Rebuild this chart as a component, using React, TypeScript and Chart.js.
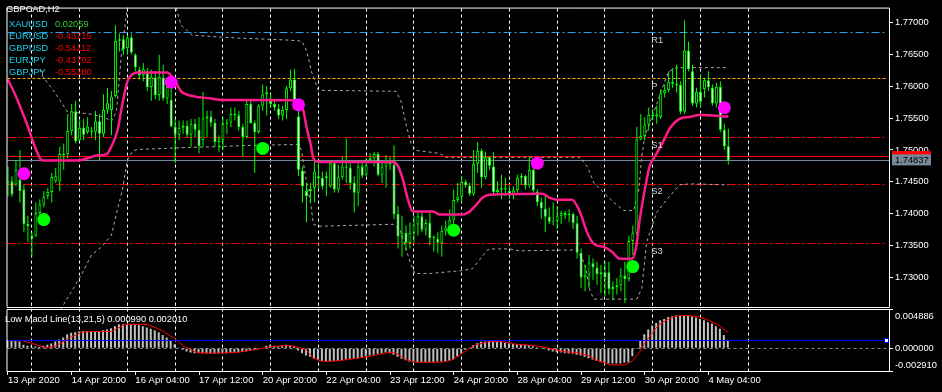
import React, { useEffect, useRef } from 'react';
import { Chart, registerables } from 'chart.js';
Chart.register(...registerables);

// ---------- data (GBPCAD, H2) ----------
const openP = [
  1.74459, 1.74510, 1.74459, 1.74536, 1.74381, 1.73841, 1.73661, 1.73661, 1.74011, 1.74145,
  1.74278, 1.74340, 1.74510, 1.74510, 1.74937, 1.74937, 1.75297, 1.75606, 1.75153, 1.75348,
  1.75282, 1.75307, 1.75287, 1.75451, 1.75256, 1.75631, 1.75626, 1.75847, 1.76712, 1.76737,
  1.76593, 1.76763, 1.76491, 1.76259, 1.76166, 1.76207, 1.75986, 1.76130, 1.75863, 1.76130,
  1.75806, 1.75786, 1.75369, 1.75240, 1.75348, 1.75379, 1.75240, 1.75410, 1.75318, 1.75153,
  1.75498, 1.75523, 1.75426, 1.75127, 1.75153, 1.75410, 1.75431, 1.75564, 1.75544, 1.75359,
  1.75205, 1.75719, 1.75421, 1.75282, 1.75693, 1.75873, 1.75806, 1.75719, 1.75652, 1.75539,
  1.75626, 1.75966, 1.76105, 1.75523, 1.74675, 1.74356, 1.74356, 1.74407, 1.74587, 1.74561,
  1.74561, 1.74433, 1.74793, 1.74381, 1.74572, 1.74741, 1.74721, 1.74484, 1.74330, 1.74741,
  1.74613, 1.74844, 1.74870, 1.74937, 1.74613, 1.74741, 1.74803, 1.74767, 1.73996, 1.73646,
  1.73703, 1.73543, 1.73703, 1.73831, 1.73960, 1.73749, 1.73857, 1.73620, 1.73610, 1.73548,
  1.73733, 1.73785, 1.73908, 1.74217, 1.74268, 1.74500, 1.74443, 1.74314, 1.74783, 1.74988,
  1.74572, 1.74885, 1.74741, 1.74340, 1.74376, 1.74402, 1.74356, 1.74289, 1.74371, 1.74567,
  1.74592, 1.74443, 1.74690, 1.74350, 1.74186, 1.74083, 1.73954, 1.73877, 1.73888, 1.73960,
  1.74011, 1.73980, 1.74001, 1.73851, 1.73389, 1.73003, 1.73044, 1.73224, 1.73157, 1.73054,
  1.73085, 1.73085, 1.72823, 1.72854, 1.72879, 1.73034, 1.72977, 1.73574, 1.73703, 1.75168,
  1.75220, 1.75400, 1.75554, 1.75523, 1.75513, 1.75889, 1.75940, 1.76069, 1.76038, 1.76017,
  1.75601, 1.76557, 1.76234, 1.75729, 1.75914, 1.75950, 1.76094, 1.75976, 1.75729, 1.75991,
  1.75318, 1.75060,
];
const highP = [
  1.74741, 1.74587, 1.74844, 1.74999, 1.74459, 1.73970, 1.73713, 1.74176, 1.74227, 1.74356,
  1.74407, 1.74639, 1.74716, 1.75050, 1.75102, 1.75564, 1.75719, 1.75770, 1.75462, 1.75487,
  1.75513, 1.75359, 1.75616, 1.75564, 1.75873, 1.75976, 1.75925, 1.76953, 1.76825, 1.76799,
  1.76799, 1.76825, 1.76516, 1.76310, 1.76362, 1.76285, 1.76259, 1.76234, 1.76491, 1.76336,
  1.76130, 1.76079, 1.75487, 1.75462, 1.75462, 1.75462, 1.75487, 1.75487, 1.75513, 1.75914,
  1.75616, 1.75616, 1.75487, 1.75230, 1.75513, 1.75487, 1.75667, 1.75667, 1.75616, 1.75410,
  1.75796, 1.75770, 1.75462, 1.75719, 1.76028, 1.76002, 1.75873, 1.75796, 1.75719, 1.75693,
  1.76002, 1.76259, 1.76274, 1.75770, 1.74741, 1.74484, 1.74484, 1.74844, 1.74793, 1.74664,
  1.74664, 1.74844, 1.74818, 1.74767, 1.74896, 1.75179, 1.74793, 1.74587, 1.74793, 1.74793,
  1.74870, 1.74948, 1.74973, 1.74973, 1.74844, 1.74921, 1.74896, 1.75076, 1.74124, 1.73970,
  1.73816, 1.73867, 1.73970, 1.74021, 1.74021, 1.73919, 1.74021, 1.73662, 1.73713, 1.73816,
  1.73893, 1.74073, 1.74381, 1.74484, 1.74587, 1.74536, 1.74484, 1.74999, 1.75127, 1.75024,
  1.74973, 1.74896, 1.74973, 1.74510, 1.74613, 1.74561, 1.74433, 1.74433, 1.74613, 1.74639,
  1.74613, 1.74896, 1.74741, 1.74381, 1.74253, 1.74278, 1.74098, 1.74176, 1.74124, 1.74047,
  1.74047, 1.74073, 1.74021, 1.73970, 1.73455, 1.73198, 1.73353, 1.73301, 1.73250, 1.73198,
  1.73250, 1.73250, 1.72941, 1.72993, 1.73147, 1.73250, 1.73661, 1.73816, 1.75359, 1.75564,
  1.75513, 1.75667, 1.75642, 1.75693, 1.75950, 1.76028, 1.76234, 1.76285, 1.76336, 1.76079,
  1.77031, 1.76696, 1.76336, 1.75976, 1.76182, 1.76130, 1.76234, 1.76028, 1.76053, 1.76079,
  1.75410, 1.75333,
];
const lowP = [
  1.74278, 1.74268, 1.74433, 1.74176, 1.73713, 1.73558, 1.73327, 1.73635, 1.73970, 1.74098,
  1.74227, 1.74176, 1.74484, 1.74356, 1.74690, 1.74870, 1.75230, 1.75102, 1.75143, 1.75153,
  1.75256, 1.75205, 1.75153, 1.74844, 1.75205, 1.75564, 1.75230, 1.75822, 1.76542, 1.76491,
  1.76491, 1.76491, 1.76234, 1.76105, 1.76079, 1.75925, 1.75770, 1.75796, 1.75770, 1.75770,
  1.75719, 1.75359, 1.74793, 1.75153, 1.75256, 1.75205, 1.75050, 1.75205, 1.74948, 1.75050,
  1.75205, 1.75359, 1.75050, 1.74973, 1.74999, 1.75256, 1.75359, 1.75462, 1.75307, 1.74896,
  1.75179, 1.75410, 1.74639, 1.75256, 1.75616, 1.75539, 1.75667, 1.75616, 1.75487, 1.75462,
  1.75487, 1.75925, 1.75642, 1.74587, 1.74176, 1.73867, 1.74176, 1.74176, 1.74381, 1.74381,
  1.74278, 1.74407, 1.74330, 1.74330, 1.74536, 1.74484, 1.74381, 1.74021, 1.74124, 1.74561,
  1.74587, 1.74793, 1.74741, 1.74587, 1.74484, 1.74407, 1.74690, 1.73919, 1.73455, 1.73327,
  1.73430, 1.73455, 1.73558, 1.73662, 1.73713, 1.73662, 1.73507, 1.73404, 1.73378, 1.73327,
  1.73662, 1.73662, 1.73841, 1.74176, 1.74176, 1.74407, 1.74278, 1.74278, 1.74639, 1.74407,
  1.74536, 1.74690, 1.74278, 1.74278, 1.74227, 1.74278, 1.74227, 1.74227, 1.74330, 1.74459,
  1.74381, 1.74407, 1.74330, 1.74124, 1.73919, 1.73713, 1.73841, 1.73816, 1.73764, 1.73841,
  1.73919, 1.73867, 1.73764, 1.73301, 1.72838, 1.72787, 1.72838, 1.72967, 1.72890, 1.72761,
  1.72710, 1.72735, 1.72658, 1.72735, 1.72787, 1.72607, 1.72941, 1.73353, 1.73661, 1.75153,
  1.75153, 1.75307, 1.75462, 1.75410, 1.75487, 1.75822, 1.75899, 1.75976, 1.75899, 1.75564,
  1.75564, 1.76234, 1.75693, 1.75667, 1.75667, 1.75822, 1.75925, 1.75693, 1.75667, 1.75282,
  1.74999, 1.74767,
];
const closeP = [
  1.74510, 1.74304, 1.74690, 1.74356, 1.73841, 1.73805, 1.73610, 1.74011, 1.74145, 1.74268,
  1.74340, 1.74577, 1.74587, 1.74937, 1.74921, 1.75297, 1.75606, 1.75138, 1.75348, 1.75240,
  1.75369, 1.75287, 1.75451, 1.75256, 1.75631, 1.75734, 1.75837, 1.76712, 1.76737, 1.76578,
  1.76763, 1.76526, 1.76295, 1.76166, 1.76274, 1.75986, 1.76146, 1.75858, 1.76146, 1.75806,
  1.75991, 1.75369, 1.75240, 1.75348, 1.75379, 1.75240, 1.75410, 1.75318, 1.75060, 1.75498,
  1.75523, 1.75426, 1.75127, 1.75179, 1.75410, 1.75431, 1.75564, 1.75544, 1.75359, 1.75205,
  1.75719, 1.75421, 1.75282, 1.75693, 1.75873, 1.75904, 1.75719, 1.75667, 1.75539, 1.75626,
  1.75966, 1.76105, 1.75667, 1.74690, 1.74433, 1.74278, 1.74392, 1.74664, 1.74561, 1.74433,
  1.74587, 1.74793, 1.74381, 1.74572, 1.74741, 1.74721, 1.74484, 1.74330, 1.74741, 1.74597,
  1.74767, 1.74870, 1.74937, 1.74613, 1.74741, 1.74803, 1.74777, 1.73996, 1.73646, 1.73703,
  1.73543, 1.73703, 1.73831, 1.73960, 1.73749, 1.73857, 1.73620, 1.73635, 1.73548, 1.73733,
  1.73785, 1.73908, 1.74217, 1.74268, 1.74500, 1.74443, 1.74314, 1.74783, 1.74988, 1.74572,
  1.74885, 1.74752, 1.74340, 1.74376, 1.74402, 1.74381, 1.74289, 1.74371, 1.74567, 1.74592,
  1.74443, 1.74690, 1.74366, 1.74186, 1.74083, 1.73954, 1.73877, 1.73888, 1.73960, 1.74011,
  1.73980, 1.74001, 1.73851, 1.73389, 1.73003, 1.73044, 1.73239, 1.73157, 1.73054, 1.73085,
  1.73003, 1.72823, 1.72854, 1.72879, 1.73034, 1.72977, 1.73574, 1.73703, 1.75168, 1.75220,
  1.75400, 1.75554, 1.75523, 1.75559, 1.75889, 1.75940, 1.76069, 1.76038, 1.76017, 1.75601,
  1.76557, 1.76269, 1.75729, 1.75914, 1.75755, 1.76094, 1.75986, 1.75729, 1.75991, 1.75318,
  1.75060, 1.74837,
];

// smoothed moving average [bar index, price]
const maPts = [
  [0, 1.76105], [2.5, 1.75765], [5, 1.75364], [6.75, 1.75055], [8.5, 1.74839], [9, 1.74835], [17.5, 1.74835],
  [20, 1.74870], [22.5, 1.74916], [24.75, 1.74932], [26, 1.75055], [27.5, 1.75302], [28.75, 1.75719],
  [30, 1.76074], [31.25, 1.76182], [32.5, 1.76213], [40, 1.76213], [41.75, 1.76105], [43.5, 1.75919],
  [44.75, 1.75873], [48, 1.75827], [50.5, 1.75811], [53.75, 1.75785], [72.25, 1.75781], [74.25, 1.75611],
  [75, 1.75364], [76, 1.75102], [76.75, 1.74870], [78, 1.74813], [96.75, 1.74813], [98, 1.74747],
  [99.25, 1.74531], [100.5, 1.74222], [101.75, 1.74037], [106.75, 1.74037], [108.5, 1.73990], [114.25, 1.73990],
  [116, 1.74037], [117.5, 1.74129], [119.25, 1.74253], [121, 1.74299], [134.25, 1.74314], [136, 1.74253],
  [138, 1.74222], [141.75, 1.74222], [143.75, 1.74021], [145.5, 1.73713], [147.25, 1.73527], [149.75, 1.73481],
  [151.75, 1.73404], [153.75, 1.73296], [156.75, 1.73296], [157.75, 1.73450], [158.75, 1.73913], [160, 1.74376],
  [161.25, 1.74746], [163, 1.74947], [164.75, 1.75148], [166.25, 1.75333], [168.75, 1.75487], [171.25, 1.75518],
  [173.75, 1.75549], [181, 1.75523],
];
const upperBand = [
  [8, 1.7626], [8.75, 1.76151], [11.75, 1.75904], [15, 1.75595], [20, 1.7557], [24, 1.7552], [26, 1.7545],
  [27.25, 1.7560], [28.5, 1.7650], [30, 1.7725], [31, 1.7760], [41, 1.7760], [42.25, 1.77231], [43.5, 1.76953],
  [45.5, 1.76845], [46.25, 1.76799], [53.75, 1.76768], [58, 1.76753], [70.5, 1.76722], [73.75, 1.76706],
  [74.75, 1.76598], [75.5, 1.76444], [76.25, 1.76228], [77.25, 1.76058], [78, 1.75935], [97.5, 1.75920],
  [98.75, 1.75765], [100, 1.75410], [101.25, 1.75102], [102.5, 1.74994], [108.5, 1.74947], [110, 1.74885],
  [143.75, 1.74885], [145.5, 1.74747], [147.25, 1.74484], [149.75, 1.74330], [152.25, 1.74176], [154.75, 1.74052],
  [157.25, 1.74052], [158.5, 1.74376], [159.25, 1.74901], [160, 1.75210], [163, 1.75719], [164.75, 1.76027],
  [166, 1.76228], [168, 1.76290], [181, 1.76290],
];
const lowerBand = [
  [11, 1.7225], [13, 1.72478], [16, 1.72787], [18.5, 1.73049], [21, 1.73358], [23.5, 1.73481], [26, 1.73666],
  [27.5, 1.74068], [28.75, 1.74376], [30, 1.74839], [31.25, 1.74978], [32.5, 1.75009], [39.25, 1.75024],
  [45.5, 1.75040], [53.75, 1.75055], [59.75, 1.75071], [73, 1.75086], [73.75, 1.74994], [74.75, 1.74592],
  [76, 1.74176], [76.75, 1.73836], [78, 1.73805], [96.75, 1.73836], [98.5, 1.73759], [100, 1.73450],
  [101.25, 1.73203], [102.25, 1.73065], [106, 1.73065], [114.25, 1.73111], [116.75, 1.73142], [118.5, 1.73281],
  [120.5, 1.73435], [121.75, 1.73450], [126, 1.73450], [128.5, 1.73420], [143, 1.73435], [145, 1.73203],
  [146.25, 1.72787], [147.25, 1.72663], [158, 1.72663], [159.25, 1.72833], [160.5, 1.73559], [163, 1.74021],
  [165.5, 1.74222], [168.75, 1.74453], [171.25, 1.74469], [181, 1.74453],
];
const peakDots = [[4, 1.74628], [41, 1.76063], [73, 1.75708], [133, 1.74793], [180, 1.75662]];
const troughDots = [[9, 1.73909], [64, 1.75025], [112, 1.73744], [157, 1.73173]];

// MACD pane
const macdHist = [
  0.00105, 0.00102, 0.00094, 0.00085, 0.00043, 0.0003, 0.00021, 0.00021, 0.00017, 0.0003,
  0.00043, 0.0006, 0.00085, 0.0011, 0.00136, 0.00179, 0.00196, 0.00204, 0.00213, 0.00221,
  0.00221, 0.00221, 0.00221, 0.00221, 0.0023, 0.00238, 0.00255, 0.0028, 0.00306, 0.00306,
  0.00306, 0.00306, 0.00306, 0.00298, 0.0028, 0.00264, 0.00247, 0.0023, 0.00204, 0.0017,
  0.00136, 0.00094, 0.00051, 0.00008, -0.00021, -0.00043, -0.00055, -0.00064, -0.00064, -0.00068,
  -0.00068, -0.00068, -0.00068, -0.00064, -0.00064, -0.00064, -0.0006, -0.00055, -0.00051, -0.00047,
  -0.00043, -0.00034, -0.00026, -0.00013, 0.0, 0.0003, 0.00043, 0.0003, 0.00021, 0.00034,
  0.00043, 0.00034, 0.00021, -0.0003, -0.00064, -0.00094, -0.0011, -0.00136, -0.00153, -0.00162,
  -0.0017, -0.0017, -0.00162, -0.00162, -0.00153, -0.00145, -0.00136, -0.00128, -0.00128, -0.00119,
  -0.00102, -0.00094, -0.00085, -0.00072, -0.00064, -0.00055, -0.00064, -0.00085, -0.0011, -0.00136,
  -0.00153, -0.0017, -0.00179, -0.00179, -0.00179, -0.00179, -0.00179, -0.00179, -0.0017, -0.0017,
  -0.0017, -0.00162, -0.00145, -0.00102, -0.00064, -0.00021, 0.00008, 0.00038, 0.00064, 0.00081,
  0.00085, 0.00094, 0.00094, 0.00085, 0.00081, 0.00072, 0.00064, 0.00055, 0.00051, 0.00047,
  0.00043, 0.00038, 0.00026, 0.00013, 0.00004, -0.00013, -0.0003, -0.00043, -0.00051, -0.00055,
  -0.00064, -0.00068, -0.00072, -0.00085, -0.00094, -0.0011, -0.00128, -0.00145, -0.00162, -0.00179,
  -0.00187, -0.00196, -0.00196, -0.00196, -0.00196, -0.00187, -0.00179, -0.00102, -0.00009, 0.00102,
  0.00179, 0.00238, 0.00289, 0.00323, 0.00357, 0.00374, 0.004, 0.00408, 0.00417, 0.0042,
  0.0042, 0.00417, 0.00408, 0.00391, 0.00374, 0.00357, 0.00332, 0.00315, 0.0028, 0.00247,
  0.0017, 0.00099,
];
const signalPts = [
  [0, 0.00097], [3.5, 0.00097], [6, 0.00063], [9.25, 0.00009], [11.75, 0.00021], [16, 0.00145], [18.5, 0.00204],
  [21, 0.00213], [26, 0.00213], [29.25, 0.00298], [30, 0.00306], [35, 0.00306], [38.5, 0.0023], [41.75, 0.00128],
  [44.25, 0.00021], [47.5, -0.00055], [51, -0.00064], [57.5, -0.00055], [62.5, -0.00013], [66, 0.00021],
  [70, 0.00034], [72, 0.00026], [75, -0.00026], [76.75, -0.00128], [79.25, -0.0017], [82.5, -0.00162],
  [86.75, -0.00136], [91, -0.00102], [96, -0.00051], [97.5, -0.00064], [100, -0.00145], [102.5, -0.00179],
  [109.25, -0.00179], [111.75, -0.00145], [114.25, -0.00064], [117.5, 0.00043], [121, 0.00085], [124.25, 0.00085],
  [127.5, 0.00051], [132.5, 0.00034], [136, 0.0], [139.25, -0.00043], [142.5, -0.00055], [146, -0.00094],
  [147.5, -0.00145], [149.25, -0.00179], [151.75, -0.00213], [155, -0.00213], [156.75, -0.0017], [158.5, -0.00064],
  [160, 0.00064], [161.75, 0.00187], [163.5, 0.00298], [166, 0.00374], [168.5, 0.00417], [171, 0.00417],
  [173.5, 0.004], [176, 0.00357], [178.5, 0.00298], [181, 0.00201],
];
const macdLevel = 0.00099;
const macdTicks = [0.004886, 0.0, -0.00291];

// axes / levels / texts
const tickIdx = [0, 16, 32, 48, 64, 80, 96, 112, 128, 144, 160, 176];
const tickLabels = ['13 Apr 2020', '14 Apr 20:00', '16 Apr 04:00', '17 Apr 12:00', '20 Apr 20:00', '22 Apr 04:00',
  '23 Apr 12:00', '24 Apr 20:00', '28 Apr 04:00', '29 Apr 12:00', '30 Apr 20:00', '4 May 04:00'];
const dayBreaks = [6, 18, 30, 42, 54, 66, 78, 90, 102, 114, 126, 138, 150, 162, 174, 186];
const priceTicks = [1.73, 1.735, 1.74, 1.745, 1.75, 1.755, 1.76, 1.765, 1.77];
const pivotNames = ['R1', 'P', 'S1', 'S2', 'S3'];
const pivotValues = [1.76841, 1.76116, 1.75190, 1.74464, 1.73532];
const pivotColors = ['#2aa3e0', '#ffa500', '#ff0000', '#ff0000', '#ff0000'];
const pivotLabelBar = 162;
const bidPrice = 1.74837;
const askPrice = 1.74897;
const corrNames = ['XAUUSD', 'EURUSD', 'GBPUSD', 'EURJPY', 'GBPJPY'];
const corrValues = [0.02059, -0.43715, -0.54112, -0.43702, -0.55180];

const FONT = '"Liberation Sans", Arial, sans-serif';

const mt4Plugin = {
  id: 'mt4',
  beforeDraw(chart: any) {
    const c = chart.ctx;
    c.save();
    c.fillStyle = '#000';
    c.fillRect(0, 0, chart.width, chart.height);
    c.restore();
  },
  beforeDatasetsDraw(chart: any) {
    const c = chart.ctx;
    const { x, y, y2 } = chart.scales;
    c.save();
    c.lineWidth = 1;
    // day separators
    c.strokeStyle = '#ffffff';
    c.setLineDash([3, 3]);
    for (const d of dayBreaks) {
      const px = Math.floor(x.getPixelForValue(d)) + 0.5;
      c.beginPath();
      c.moveTo(px, y.top + 1);
      c.lineTo(px, y2.bottom);
      c.stroke();
    }
    // pivot levels
    pivotValues.forEach((v, k) => {
      const py = Math.floor(y.getPixelForValue(v)) + 0.5;
      c.strokeStyle = pivotColors[k];
      c.setLineDash(k === 1 ? [3, 2] : [8, 3, 2, 3]);
      c.beginPath();
      c.moveTo(x.left + 1, py);
      c.lineTo(x.right - 2, py);
      c.stroke();
    });
    c.setLineDash([]);
    // ask / bid
    const ay = Math.floor(y.getPixelForValue(askPrice)) + 0.5;
    c.strokeStyle = '#ff0000';
    c.beginPath(); c.moveTo(x.left + 1, ay); c.lineTo(x.right, ay); c.stroke();
    const by = Math.floor(y.getPixelForValue(bidPrice)) + 0.5;
    c.strokeStyle = '#778899';
    c.beginPath(); c.moveTo(x.left + 1, by); c.lineTo(x.right, by); c.stroke();
    // MACD zero line
    const zy = Math.floor(y2.getPixelForValue(0)) + 0.5;
    c.setLineDash([3, 3]);
    c.strokeStyle = '#778899';
    c.beginPath(); c.moveTo(x.left + 1, zy); c.lineTo(x.right, zy); c.stroke();
    c.restore();
  },
  afterDatasetsDraw(chart: any) {
    const c = chart.ctx;
    const { x, y2 } = chart.scales;
    c.save();
    const ly = Math.floor(y2.getPixelForValue(macdLevel)) + 0.5;
    c.strokeStyle = '#0000ff';
    c.lineWidth = 1;
    c.beginPath(); c.moveTo(x.left + 1, ly); c.lineTo(x.right - 2, ly); c.stroke();
    c.fillStyle = '#ffffff';
    c.fillRect(x.right - 4, ly - 1.5, 3, 3);
    c.strokeRect(x.right - 4.5, ly - 2, 4, 4);
    c.restore();
  },
  afterDraw(chart: any) {
    const c = chart.ctx;
    const { x, y, y2 } = chart.scales;
    c.save();
    // pane borders
    c.strokeStyle = '#ffffff';
    c.lineWidth = 1;
    const L = x.left + 0.5, R = x.right + 0.5;
    const mainBottom = Math.floor(y.bottom) - 0.5;
    const subTop = Math.floor(y2.top) + 1.5;
    const subBottom = Math.floor(y2.bottom) + 0.5;
    c.beginPath();
    c.moveTo(L, y.top + 0.5); c.lineTo(R, y.top + 0.5);
    c.moveTo(L, y.top + 0.5); c.lineTo(L, mainBottom);
    c.moveTo(R, y.top + 0.5); c.lineTo(R, mainBottom);
    c.moveTo(L, mainBottom); c.lineTo(R, mainBottom);
    c.moveTo(L, subTop); c.lineTo(R, subTop);
    c.moveTo(L, subTop); c.lineTo(L, subBottom);
    c.moveTo(R, subTop); c.lineTo(R, subBottom);
    c.moveTo(L, subBottom); c.lineTo(R + 3, subBottom);
    c.stroke();

    c.textBaseline = 'middle';
    c.font = `9.3px ${FONT}`;
    // header & correlation table
    c.fillStyle = '#ffffff';
    c.fillText('GBPCAD,H2', 6, 9.5);
    corrNames.forEach((n, k) => {
      const ty = 24.5 + k * 12;
      c.fillStyle = '#1ed2f0';
      c.fillText(n, 9, ty);
      c.fillStyle = corrValues[k] >= 0 ? '#32cd32' : '#ff0000';
      c.fillText(corrValues[k].toFixed(5), 55, ty);
    });
    // pivot labels
    c.textBaseline = 'top';
    c.fillStyle = '#d8d8d8';
    const lx = x.getPixelForValue(pivotLabelBar) - 1.5;
    pivotValues.forEach((v, k) => {
      c.fillText(pivotNames[k], lx, y.getPixelForValue(v) + 3);
    });
    // MACD caption
    c.textBaseline = 'middle';
    c.fillStyle = '#ffffff';
    c.fillText(`Low Macd Line(13,21,5) ${macdHist[macdHist.length - 1].toFixed(6)} ${signalPts[signalPts.length - 1][1].toFixed(6)}`, 5, y2.top + 10);
    // MACD axis labels (kept inside the pane like MT4)
    const maxT = Math.max(...macdTicks), minT = Math.min(...macdTicks);
    macdTicks.forEach((v) => {
      let py = y2.getPixelForValue(v);
      if (v === maxT) py += 6;
      if (v === minT) py -= 6;
      c.fillText(v.toFixed(6), x.right + 6, py);
    });
    // ask / bid price tags
    const ay = y.getPixelForValue(askPrice);
    c.fillStyle = '#ff0000';
    c.fillRect(x.right + 3, ay - 5.5, 39, 10.5);
    const by = y.getPixelForValue(bidPrice);
    c.fillStyle = '#778899';
    c.fillRect(x.right + 3, by - 6, 39, 11);
    c.fillStyle = '#000000';
    c.fillText(bidPrice.toFixed(5), x.right + 6, by);
    c.restore();
  },
};

export default function App() {
  const ref = useRef<HTMLCanvasElement>(null);
  useEffect(() => {
    document.body.style.margin = '0';
    document.body.style.background = '#000';
    const canvas = ref.current!;
    const idx = closeP.map((_, i) => i);
    const pts = (arr: number[][]) => arr.map(([a, b]) => ({ x: a, y: b }));
    const chart = new Chart(canvas, {
      type: 'bar',
      data: {
        datasets: [
          { type: 'scatter', data: pts(peakDots), pointRadius: 6.5, pointBackgroundColor: '#ff00ff', pointBorderWidth: 0, order: 0, xAxisID: 'x', yAxisID: 'y' } as any,
          { type: 'scatter', data: pts(troughDots), pointRadius: 6.5, pointBackgroundColor: '#00ff00', pointBorderWidth: 0, order: 0, xAxisID: 'x', yAxisID: 'y' } as any,
          { type: 'line', data: pts(maPts), borderColor: '#ff1a8c', borderWidth: 2.5, pointRadius: 0, cubicInterpolationMode: 'monotone', order: 1, xAxisID: 'x', yAxisID: 'y' } as any,
          {
            type: 'bar', data: idx.map((i) => ({ x: i, y: [openP[i], closeP[i]] })),
            backgroundColor: idx.map((i) => (closeP[i] > openP[i] ? '#000000' : '#ffffff')),
            borderColor: '#00ff00', borderWidth: 1, borderSkipped: false, barThickness: 3, grouped: false, inflateAmount: 0,
            order: 2, xAxisID: 'x', yAxisID: 'y',
          } as any,
          {
            type: 'bar', data: idx.map((i) => ({ x: i, y: [lowP[i], highP[i]] })),
            backgroundColor: '#00ff00', borderWidth: 0, barThickness: 1, grouped: false, inflateAmount: 0,
            order: 3, xAxisID: 'x', yAxisID: 'y',
          } as any,
          { type: 'line', data: pts(upperBand), borderColor: '#a8a8a8', borderWidth: 1, borderDash: [3, 3], pointRadius: 0, order: 4, xAxisID: 'x', yAxisID: 'y' } as any,
          { type: 'line', data: pts(lowerBand), borderColor: '#a8a8a8', borderWidth: 1, borderDash: [3, 3], pointRadius: 0, order: 4, xAxisID: 'x', yAxisID: 'y' } as any,
          { type: 'line', data: pts(signalPts), borderColor: '#ff0000', borderWidth: 1, pointRadius: 0, order: 5, xAxisID: 'x', yAxisID: 'y2' } as any,
          {
            type: 'bar', data: idx.map((i) => ({ x: i, y: macdHist[i] })),
            backgroundColor: '#c0c0c0', borderWidth: 0, barThickness: 2, grouped: false, inflateAmount: 0,
            order: 6, xAxisID: 'x2', yAxisID: 'y2',
          } as any,
        ],
      },
      options: {
        responsive: false,
        animation: false,
        devicePixelRatio: 1,
        events: [],
        layout: { padding: { left: 2, top: 2, right: 0, bottom: 0 } },
        plugins: { legend: { display: false }, tooltip: { enabled: false } },
        scales: {
          x: {
            type: 'linear', min: -0.375, max: 221.375, offset: false, position: 'bottom',
            afterFit: (s: any) => { s.height = 21; },
            afterBuildTicks: (s: any) => { s.ticks = tickIdx.map((v) => ({ value: v })); },
            ticks: {
              color: '#ffffff', font: { family: FONT, size: 9.5 }, align: 'start', maxRotation: 0, minRotation: 0,
              autoSkip: false, padding: 0,
              callback: (v: any) => { const k = tickIdx.indexOf(Number(v)); return k >= 0 ? tickLabels[k] : ''; },
            },
            grid: { drawOnChartArea: false, drawTicks: true, tickLength: 4, color: '#ffffff', offset: false },
            border: { display: false },
          },
          x2: { type: 'linear', display: false, min: -0.25, max: 221.5, offset: false },
          y: {
            type: 'linear', position: 'right', stack: 'pane', stackWeight: 306, offset: false,
            min: 1.725093, max: 1.772314,
            afterFit: (s: any) => { s.width = 53; },
            afterBuildTicks: (s: any) => { s.ticks = priceTicks.map((v) => ({ value: v })); },
            ticks: { color: '#ffffff', font: { family: FONT, size: 9.3 }, padding: 2, callback: (v: any) => Number(v).toFixed(5) },
            grid: { drawOnChartArea: false, drawTicks: true, tickLength: 4, color: '#ffffff' },
            border: { display: false },
          },
          y2: {
            type: 'linear', position: 'right', stack: 'pane', stackWeight: 63, offset: false,
            min: -0.00291, max: 0.005012,
            afterFit: (s: any) => { s.width = 53; },
            afterBuildTicks: (s: any) => { s.ticks = macdTicks.map((v) => ({ value: v })); },
            ticks: { color: '#ffffff', font: { family: FONT, size: 9.3 }, padding: 2, callback: () => '' },
            grid: { drawOnChartArea: false, drawTicks: true, tickLength: 4, color: '#ffffff' },
            border: { display: false },
          },
        } as any,
      },
      plugins: [mt4Plugin],
    } as any);
    return () => chart.destroy();
  }, []);
  return <canvas ref={ref} width={942} height={392} style={{ display: 'block', width: 942, height: 392 }} />;
}
